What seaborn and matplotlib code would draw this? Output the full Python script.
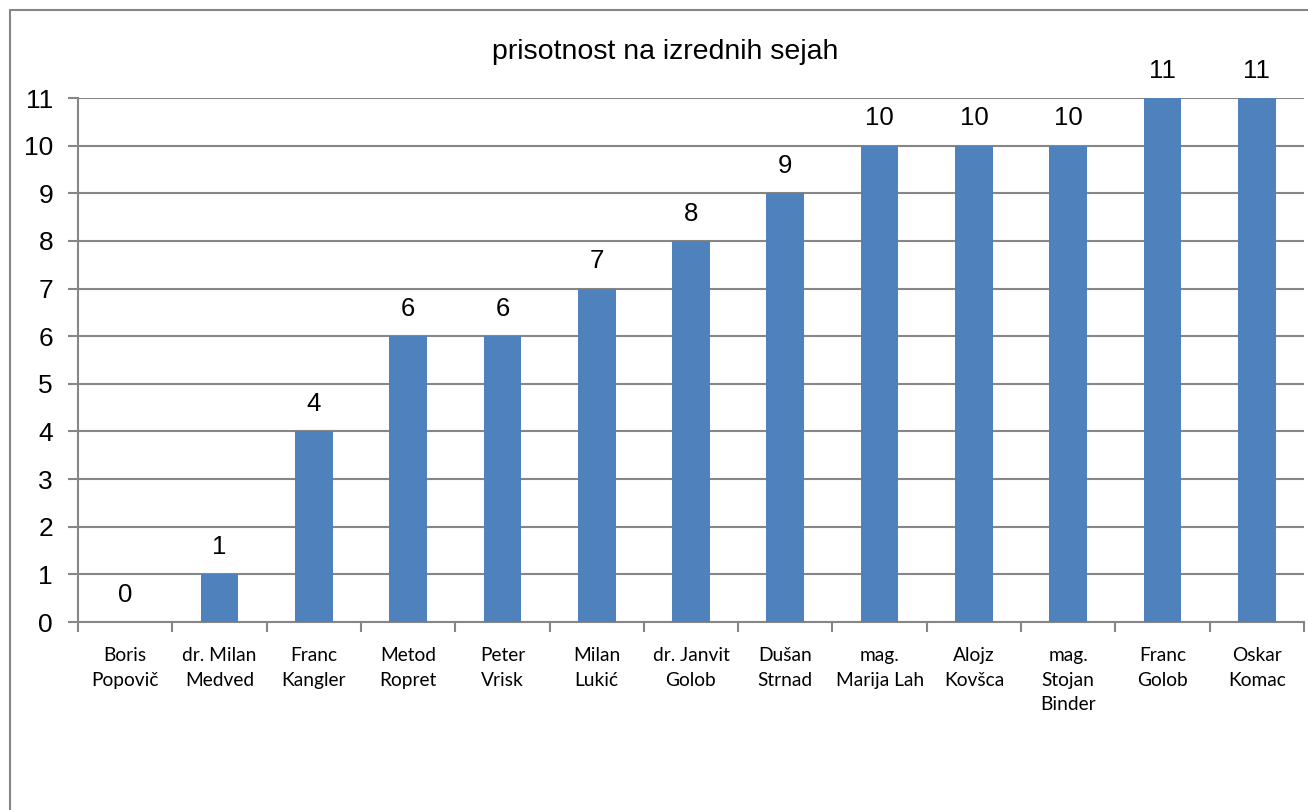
import numpy as np
import pandas as pd
import seaborn as sns
import matplotlib.pyplot as plt
from matplotlib.lines import Line2D

# data
names = ['Boris\nPopovič', 'dr. Milan\nMedved', 'Franc\nKangler', 'Metod\nRopret',
         'Peter\nVrisk', 'Milan\nLukić', 'dr. Janvit\nGolob', 'Dušan\nStrnad',
         'mag.\nMarija Lah', 'Alojz\nKovšca', 'mag.\nStojan\nBinder', 'Franc\nGolob',
         'Oskar\nKomac']
attendance = [0, 1, 4, 6, 6, 7, 8, 9, 10, 10, 10, 11, 11]
y_ticks = list(range(0, 12))

df = pd.DataFrame({'name': names, 'count': attendance})

sns.set_style('white')
plt.rcParams['font.family'] = ['Liberation Sans', 'DejaVu Sans']
plt.rcParams['text.color'] = 'black'
plt.rcParams['xtick.labelcolor'] = 'black'
plt.rcParams['ytick.labelcolor'] = 'black'

fig = plt.figure(figsize=(13.08, 8.10), dpi=100)
ax = fig.add_axes([78 / 1308, 1 - 622 / 810, (1304 - 78) / 1308, (622 - 98) / 810])

grid_col = '#868686'
sns.barplot(data=df, x='name', y='count', color='#4F81BD', saturation=1,
            width=0.40, linewidth=0, ax=ax, zorder=3)

ax.set_ylim(0, 11)
ax.set_xlim(-0.5, len(names) - 0.5)
ax.set_yticks(y_ticks)
ax.set_yticklabels([str(t) for t in y_ticks], fontsize=19)
ax.yaxis.grid(True, color=grid_col, linewidth=1.5, zorder=0)
ax.set_axisbelow(True)

# x ticks at category boundaries, labels at centres
ax.set_xticks(np.arange(len(names)))
ax.set_xticklabels(names, family=['Lato', 'DejaVu Sans'], fontsize=13.8,
                   linespacing=1.55, va='top')
ax.set_xticks(np.arange(-0.5, len(names)), minor=True)
ax.tick_params(which='both', bottom=True, left=True)
ax.tick_params(axis='x', which='major', length=0, pad=18)
ax.tick_params(axis='x', which='minor', length=7, width=1.5, color=grid_col, direction='out')
ax.tick_params(axis='y', which='major', length=7, width=1.5, color=grid_col, direction='out', pad=11)

for side in ['top', 'right']:
    ax.spines[side].set_visible(False)
for side in ['left', 'bottom']:
    ax.spines[side].set_color(grid_col)
    ax.spines[side].set_linewidth(1.5)

ax.set_xlabel('')
ax.set_ylabel('')

ax.bar_label(ax.containers[0], labels=[str(v) for v in attendance],
             fontsize=18.5, padding=11, color='black')

fig.text(665 / 1308, 1 - 52 / 810, 'prisotnost na izrednih sejah',
         ha='center', va='center', fontsize=20.5)

# outer chart border (cropped on the right/bottom)
fig.add_artist(Line2D([9.5 / 1308, 9.5 / 1308], [0, 1 - 10 / 810],
                      transform=fig.transFigure, color=grid_col, linewidth=1.5))
fig.add_artist(Line2D([9.5 / 1308, 1], [1 - 10 / 810, 1 - 10 / 810],
                      transform=fig.transFigure, color=grid_col, linewidth=1.5))

fig.savefig('out.png', dpi=100)
